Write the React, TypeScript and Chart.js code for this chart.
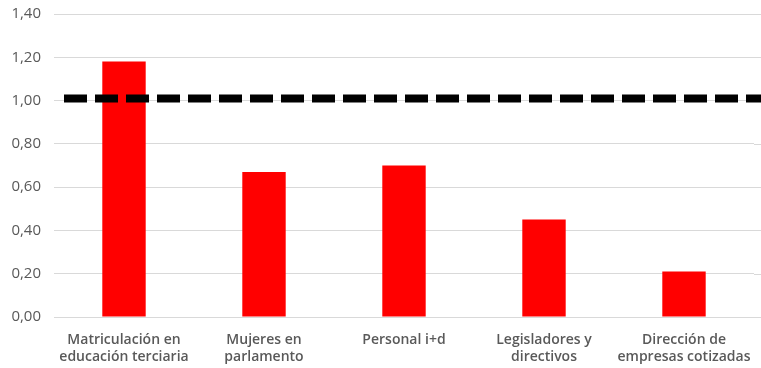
import React, { useEffect, useRef } from "react";
import { Chart, registerables } from "chart.js";

Chart.register(...registerables);

const categories: string[][] = [
  ["Matriculación en", "educación terciaria"],
  ["Mujeres en", "parlamento"],
  ["Personal i+d"],
  ["Legisladores y", "directivos"],
  ["Dirección de", "empresas cotizadas"],
];
const ratios: number[] = [1.18, 0.67, 0.7, 0.45, 0.21];
const parityLevel = 1.01;
const yMin = 0;
const yMax = 1.4;
const yStep = 0.2;

// Thick dashed reference line at the parity level, spanning the plot width
const parityLinePlugin = {
  id: "parityLine",
  afterDatasetsDraw(chart: any) {
    const { ctx, chartArea, scales } = chart;
    const y = scales.y.getPixelForValue(parityLevel);
    ctx.save();
    ctx.beginPath();
    ctx.setLineDash([23, 8]);
    ctx.lineWidth = 8;
    ctx.strokeStyle = "#000000";
    ctx.moveTo(chartArea.left + 10, y);
    ctx.lineTo(chart.width, y);
    ctx.stroke();
    ctx.restore();
  },
};

// Extend horizontal gridlines to the right edge of the canvas
const gridExtendPlugin = {
  id: "gridExtend",
  beforeDatasetsDraw(chart: any) {
    const { ctx, chartArea, scales } = chart;
    ctx.save();
    ctx.strokeStyle = "#d9d9d9";
    ctx.lineWidth = 1;
    for (let v = yMin; v <= yMax + 1e-9; v += yStep) {
      const y = Math.round(scales.y.getPixelForValue(v)) + 0.5;
      ctx.beginPath();
      ctx.moveTo(chartArea.right, y);
      ctx.lineTo(chart.width, y);
      ctx.stroke();
    }
    ctx.restore();
  },
};

export default function App() {
  const canvasRef = useRef<HTMLCanvasElement | null>(null);

  useEffect(() => {
    document.body.style.margin = "0";
    const canvas = canvasRef.current;
    if (!canvas) return;
    const chart = new Chart(canvas, {
      type: "bar",
      data: {
        labels: categories,
        datasets: [
          {
            data: ratios,
            backgroundColor: "#ff0000",
            borderWidth: 0,
            barPercentage: 0.31,
            categoryPercentage: 1,
          },
        ],
      },
      options: {
        animation: false,
        responsive: false,
        maintainAspectRatio: false,
        layout: { padding: { left: 11, right: 7, top: 14, bottom: 2 } },
        plugins: {
          legend: { display: false },
          tooltip: { enabled: false },
        },
        scales: {
          x: {
            grid: { display: false, drawTicks: false },
            border: { display: true, color: "#d9d9d9" },
            ticks: {
              color: "#595959",
              padding: 14,
              maxRotation: 0,
              autoSkip: false,
              font: { family: "'Open Sans'", size: 14, weight: 600, lineHeight: 1.25 },
            },
            afterFit: (scale: any) => {
              scale.paddingLeft = 0;
              scale.paddingRight = 0;
              scale.height = 49;
            },
          },
          y: {
            min: yMin,
            max: yMax,
            grid: { color: "#d9d9d9", drawTicks: false },
            border: { display: false },
            ticks: {
              stepSize: yStep,
              color: "#595959",
              padding: 13,
              font: { family: "'Open Sans'", size: 15 },
              callback: (v: any) => Number(v).toFixed(2).replace(".", ","),
            },
            afterFit: (scale: any) => {
              scale.paddingTop = 0;
              scale.paddingBottom = 0;
              scale.width = 43;
            },
          },
        },
      },
      plugins: [gridExtendPlugin, parityLinePlugin],
    });
    return () => chart.destroy();
  }, []);

  return (
    <div style={{ width: 761, height: 368, background: "#ffffff" }}>
      <canvas ref={canvasRef} width={761} height={368} />
    </div>
  );
}
